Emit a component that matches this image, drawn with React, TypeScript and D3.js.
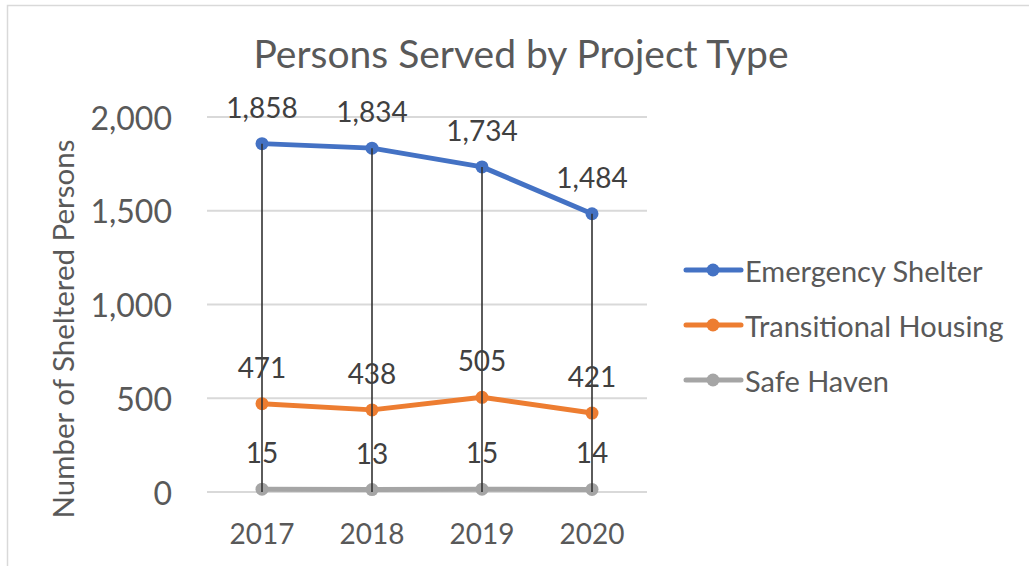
import React from "react";
import * as d3 from "d3";

const YEARS = ["2017", "2018", "2019", "2020"];
const EMERGENCY = [1858, 1834, 1734, 1484];
const TRANSITIONAL = [471, 438, 505, 421];
const SAFE_HAVEN = [15, 13, 15, 14];
const Y_TICKS = [0, 500, 1000, 1500, 2000];

const SERIES = [
  { name: "Emergency Shelter", values: EMERGENCY, color: "#4472C4" },
  { name: "Transitional Housing", values: TRANSITIONAL, color: "#ED7D31" },
  { name: "Safe Haven", values: SAFE_HAVEN, color: "#A5A5A5" },
];

const W = 1029;
const H = 566;
const FONT = "Lato, 'Open Sans', sans-serif";
const TEXT = "#595959";

export default function App() {
  const x = d3.scalePoint<string>().domain(YEARS).range([207, 647]).padding(0.5);
  const y = d3.scaleLinear().domain([0, 2000]).range([492, 117]);
  const fmt = d3.format(",");

  const line = (vals: number[]) =>
    d3
      .line<number>()
      .x((_, i) => x(YEARS[i]) as number)
      .y((d) => y(d))(vals) as string;

  return (
    <svg
      width={W}
      height={H}
      style={{ position: "absolute", left: 0, top: 0, display: "block", background: "#fff" }}
      fontFamily={FONT}
    >
      <rect x={7.5} y={5.5} width={W + 10} height={H + 10} fill="#fff" stroke="#d9d9d9" strokeWidth={1.5} />

      <text x={521} y={53} textAnchor="middle" dominantBaseline="central" fontSize={39} fill={TEXT}>
        Persons Served by Project Type
      </text>

      {/* gridlines */}
      {Y_TICKS.map((t) => (
        <g key={t}>
          <line x1={207} x2={647} y1={y(t)} y2={y(t)} stroke="#d9d9d9" strokeWidth={2} />
          <text x={172} y={y(t)} textAnchor="end" dominantBaseline="central" fontSize={32} fill={TEXT}>
            {fmt(t)}
          </text>
        </g>
      ))}

      <text
        transform={`translate(62,${(140 + 518) / 2}) rotate(-90)`}
        textAnchor="middle"
        dominantBaseline="central"
        fontSize={29.5}
        fill={TEXT}
      >
        Number of Sheltered Persons
      </text>

      {/* x labels */}
      {YEARS.map((yr) => (
        <text key={yr} x={x(yr)} y={533} textAnchor="middle" dominantBaseline="central" fontSize={28} fill={TEXT}>
          {yr}
        </text>
      ))}

      {/* series lines */}
      {SERIES.map((s) => (
        <g key={s.name}>
          <path d={line(s.values)} fill="none" stroke={s.color} strokeWidth={5} strokeLinejoin="round" />
          {s.values.map((v, i) => (
            <circle key={i} cx={x(YEARS[i])} cy={y(v)} r={6.5} fill={s.color} />
          ))}
        </g>
      ))}

      {/* drop lines */}
      {YEARS.map((yr, i) => (
        <line
          key={yr}
          x1={x(yr)}
          x2={x(yr)}
          y1={y(Math.max(EMERGENCY[i], TRANSITIONAL[i], SAFE_HAVEN[i]))}
          y2={y(0)}
          stroke="#333"
          strokeWidth={1.6}
        />
      ))}

      {/* data labels */}
      {SERIES.map((s) =>
        s.values.map((v, i) => (
          <text
            key={s.name + i}
            x={x(YEARS[i])}
            y={y(v) - 37}
            textAnchor="middle"
            dominantBaseline="central"
            fontSize={28}
            fill="#404040"
          >
            {fmt(v)}
          </text>
        ))
      )}

      {/* legend */}
      {SERIES.map((s, i) => {
        const ly = 270 + i * 55;
        return (
          <g key={s.name}>
            <line x1={686} x2={741} y1={ly} y2={ly} stroke={s.color} strokeWidth={5} strokeLinecap="round" />
            <circle cx={713} cy={ly} r={6.5} fill={s.color} />
            <text x={745} y={ly} dominantBaseline="central" fontSize={29} fill={TEXT}>
              {s.name}
            </text>
          </g>
        );
      })}
    </svg>
  );
}
